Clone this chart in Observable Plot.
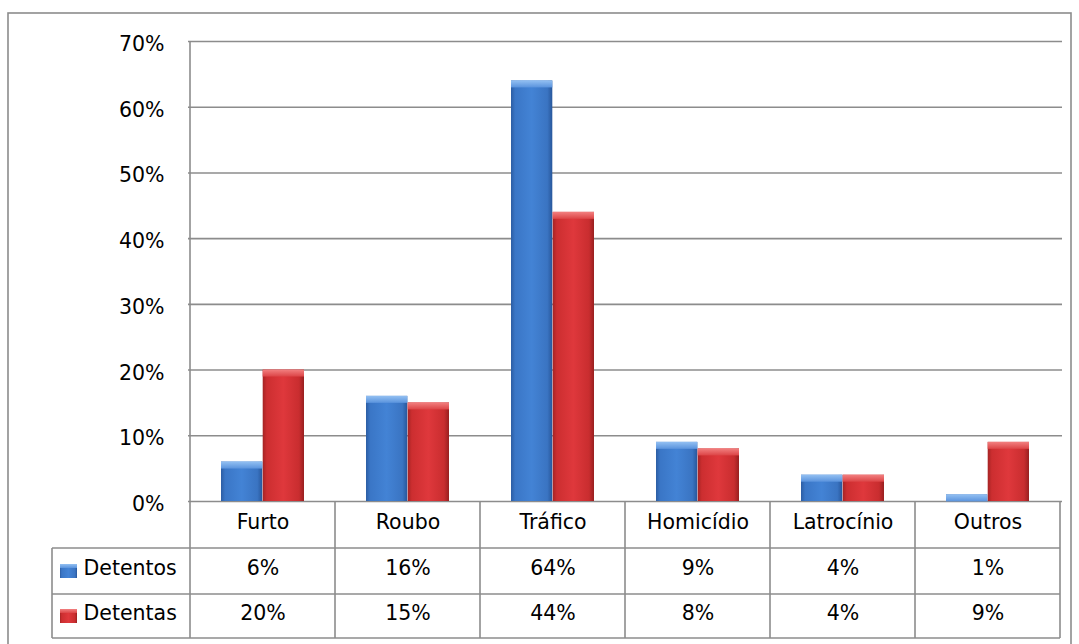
<!DOCTYPE html>
<html>
<head>
<meta charset="utf-8">
<script src="https://cdn.jsdelivr.net/npm/d3@7"></script>
<script src="https://cdn.jsdelivr.net/npm/@observablehq/plot@0.6"></script>
<style>
  html, body { margin: 0; padding: 0; background: #fff; }
  #chart { position: relative; width: 1079px; height: 644px; overflow: hidden; }
</style>
</head>
<body>
<div id="chart"></div>
<script>
const categories = ["Furto", "Roubo", "Tráfico", "Homicídio", "Latrocínio", "Outros"];
const detentos = [6, 16, 64, 9, 4, 1];
const detentas = [20, 15, 44, 8, 4, 9];
const seriesNames = ["Detentos", "Detentas"];
const yTicks = [0, 10, 20, 30, 40, 50, 60, 70];

const rowsM = categories.map((c, i) => ({cat: c, v: detentos[i]}));
const rowsF = categories.map((c, i) => ({cat: c, v: detentas[i]}));

const FONT = "DejaVu Sans";
const FS = 20.5;
const GRID = "#8c8c8c";

const plot = Plot.plot({
  width: 1079,
  height: 644,
  marginLeft: 188,
  marginRight: 17,
  marginTop: 41,
  marginBottom: 143,
  x: {domain: categories, padding: 0, axis: null},
  y: {domain: [0, 70], axis: null},
  style: {fontFamily: FONT, fontSize: FS + "px", color: "#000", background: "transparent", overflow: "visible"},
  marks: [
    Plot.ruleY(yTicks, {stroke: GRID, strokeWidth: 1.6}),
    Plot.axisY({ticks: yTicks, tickSize: 0, tickPadding: 24, tickFormat: d => d + "%", fontSize: FS, label: null, dy: 3, fill: "#000"}),
    // bars
    Plot.barY(rowsM, {x: "cat", y: "v", fill: "url(#gBlue)", insetLeft: 31, insetRight: 72.7}),
    Plot.barY(rowsF, {x: "cat", y: "v", fill: "url(#gRed)", insetLeft: 72.7, insetRight: 31}),
    // top bevels
    Plot.barY(rowsM, {x: "cat", y1: "v", y2: "v", insetBottom: -7, fill: "url(#bBlue)", insetLeft: 31, insetRight: 72.7}),
    Plot.barY(rowsF, {x: "cat", y1: "v", y2: "v", insetBottom: -7, fill: "url(#bRed)", insetLeft: 72.7, insetRight: 31}),
    // data table texts
    Plot.text(categories, {x: d => d, text: d => d, frameAnchor: "bottom", dy: 27, fontSize: FS, fill: "#000"}),
    Plot.text(rowsM, {x: "cat", text: d => d.v + "%", frameAnchor: "bottom", dy: 73, fontSize: FS, fill: "#000"}),
    Plot.text(rowsF, {x: "cat", text: d => d.v + "%", frameAnchor: "bottom", dy: 118, fontSize: FS, fill: "#000"}),
    Plot.text([seriesNames[0]], {text: d => d, frameAnchor: "bottom-left", dx: -105, dy: 73, textAnchor: "start", fontSize: FS, fill: "#000"}),
    Plot.text([seriesNames[1]], {text: d => d, frameAnchor: "bottom-left", dx: -105, dy: 118, textAnchor: "start", fontSize: FS, fill: "#000"})
  ]
});

const svg = d3.select(plot);
const defs = svg.insert("defs", ":first-child");
function hgrad(id, stops) {
  const g = defs.append("linearGradient").attr("id", id).attr("x1", 0).attr("x2", 1).attr("y1", 0).attr("y2", 0);
  stops.forEach(([o, c]) => g.append("stop").attr("offset", o).attr("stop-color", c));
}
function vgrad(id, stops) {
  const g = defs.append("linearGradient").attr("id", id).attr("x1", 0).attr("x2", 0).attr("y1", 0).attr("y2", 1);
  stops.forEach(([o, c]) => g.append("stop").attr("offset", o).attr("stop-color", c));
}
hgrad("gBlue", [[0, "#2c5da3"], [0.1, "#3a76c6"], [0.5, "#4383d5"], [0.88, "#3a74c2"], [1, "#28579b"]]);
hgrad("gRed", [[0, "#a52424"], [0.1, "#cc2e30"], [0.5, "#df383c"], [0.88, "#c92d2f"], [1, "#982020"]]);
vgrad("bBlue", [[0, "#93c0f2"], [1, "#5a93dd"]]);
vgrad("bRed", [[0, "#f28080"], [1, "#dc4446"]]);

// table grid lines (layout only), positioned with the plot's x scale
const xs = plot.scale("x");
const x0 = xs.apply(categories[0]);
const xEnd = xs.apply(categories[categories.length - 1]) + xs.bandwidth;
const y0 = plot.scale("y").apply(0);
const yTop = plot.scale("y").apply(70);
const r1 = y0 + 47, r2 = y0 + 93, r3 = y0 + 137;
const legendLeft = 52;
const g = svg.append("g").attr("stroke", GRID).attr("stroke-width", 1.6).attr("fill", "none");
g.append("line").attr("x1", x0).attr("x2", x0).attr("y1", yTop).attr("y2", r3);
[r1, r2, r3].forEach(y => g.append("line").attr("x1", legendLeft).attr("x2", xEnd).attr("y1", y).attr("y2", y));
g.append("line").attr("x1", legendLeft).attr("x2", legendLeft).attr("y1", r1).attr("y2", r3);
categories.forEach((c, i) => {
  const xx = xs.apply(c) + xs.bandwidth;
  g.append("line").attr("x1", xx).attr("x2", xx).attr("y1", y0).attr("y2", r3);
});
// outer chart border
svg.append("rect").attr("x", 8).attr("y", 13).attr("width", 1063).attr("height", 660)
  .attr("fill", "none").attr("stroke", GRID).attr("stroke-width", 1.6);

// legend keys in the data table
[["gBlue", "bBlue", (r1 + r2) / 2], ["gRed", "bRed", (r2 + r3) / 2]].forEach(([f, b, cy]) => {
  svg.append("rect").attr("x", 60).attr("y", cy - 7).attr("width", 17).attr("height", 14).attr("fill", `url(#${f})`);
  svg.append("rect").attr("x", 60).attr("y", cy - 7).attr("width", 17).attr("height", 4).attr("fill", `url(#${b})`);
});

document.getElementById("chart").appendChild(plot);
</script>
</body>
</html>
